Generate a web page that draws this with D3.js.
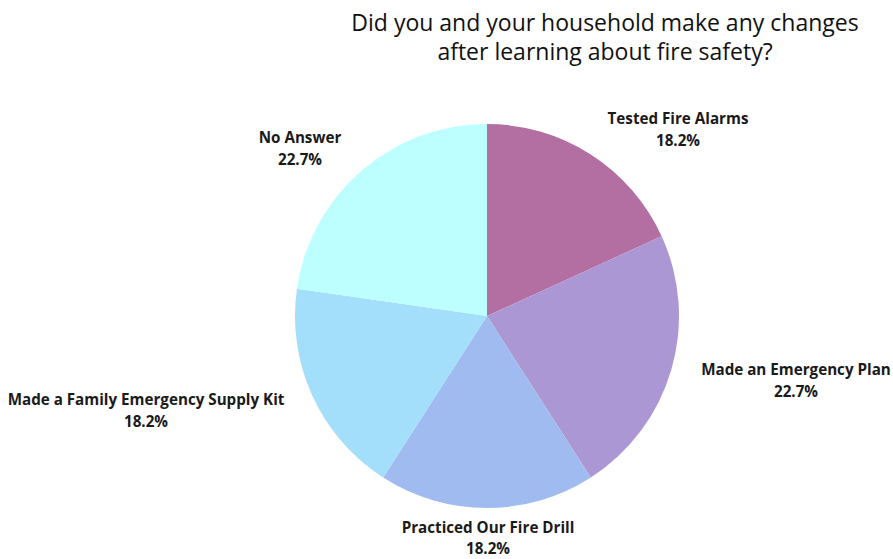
<!DOCTYPE html>
<html>
<head>
<meta charset="utf-8">
<script src="https://cdn.jsdelivr.net/npm/d3@7"></script>
<style>
  html, body { margin: 0; padding: 0; background: #ffffff; }
  svg { display: block; }
</style>
</head>
<body>
<svg id="chart" width="893" height="559"></svg>
<script>
// Survey responses (counts out of 22 households)
const categories = [
  "Tested Fire Alarms",
  "Made an Emergency Plan",
  "Practiced Our Fire Drill",
  "Made a Family Emergency Supply Kit",
  "No Answer"
];
const counts = [4, 5, 4, 4, 5];
const percentLabels = ["18.2%", "22.7%", "18.2%", "18.2%", "22.7%"];
const sliceColors = ["#b36fa1", "#aa97d4", "#a0bbf0", "#a3defa", "#bdfefe"];

const titleLines = [
  "Did you and your household make any changes",
  "after learning about fire safety?"
];

// Layout
const width = 893, height = 559;
const cx = 487, cy = 316, radius = 192;
// Label anchor offsets from pie centre (first-line baseline, centred)
const labelOffsets = [
  [191, -192], [309, 59], [1, 217], [-341, 89], [-187, -173]
];

const svg = d3.select("#chart");

const data = categories.map((c, i) => ({ name: c, value: counts[i], pct: percentLabels[i], color: sliceColors[i] }));

const pie = d3.pie().sort(null).value(d => d.value).startAngle(0).endAngle(2 * Math.PI);
const arc = d3.arc().innerRadius(0).outerRadius(radius);

const g = svg.append("g").attr("transform", `translate(${cx},${cy})`);

g.selectAll("path.slice")
  .data(pie(data))
  .join("path")
  .attr("class", "slice")
  .attr("d", arc)
  .attr("fill", d => d.data.color)
  .attr("stroke", "none");

// Slice labels
const labels = g.selectAll("text.label")
  .data(pie(data))
  .join("text")
  .attr("class", "label")
  .attr("text-anchor", "middle")
  .attr("font-family", "'Open Sans', sans-serif")
  .attr("font-weight", 700)
  .attr("font-size", 15.2)
  .attr("fill", "#1a1a1a")
  .attr("transform", (d, i) => `translate(${labelOffsets[i][0]},${labelOffsets[i][1]})`);

labels.append("tspan").attr("x", 0).attr("y", 0).text(d => d.data.name);
labels.append("tspan").attr("x", 0).attr("y", (d, i) => i === 2 ? 21 : 22).text(d => d.data.pct);

// Title
svg.append("text")
  .attr("text-anchor", "middle")
  .attr("font-family", "'Open Sans', sans-serif")
  .attr("font-size", 23)
  .attr("fill", "#111111")
  .selectAll("tspan")
  .data(titleLines)
  .join("tspan")
  .attr("x", 605)
  .attr("y", (d, i) => 31 + i * 29)
  .text(d => d);
</script>
</body>
</html>
